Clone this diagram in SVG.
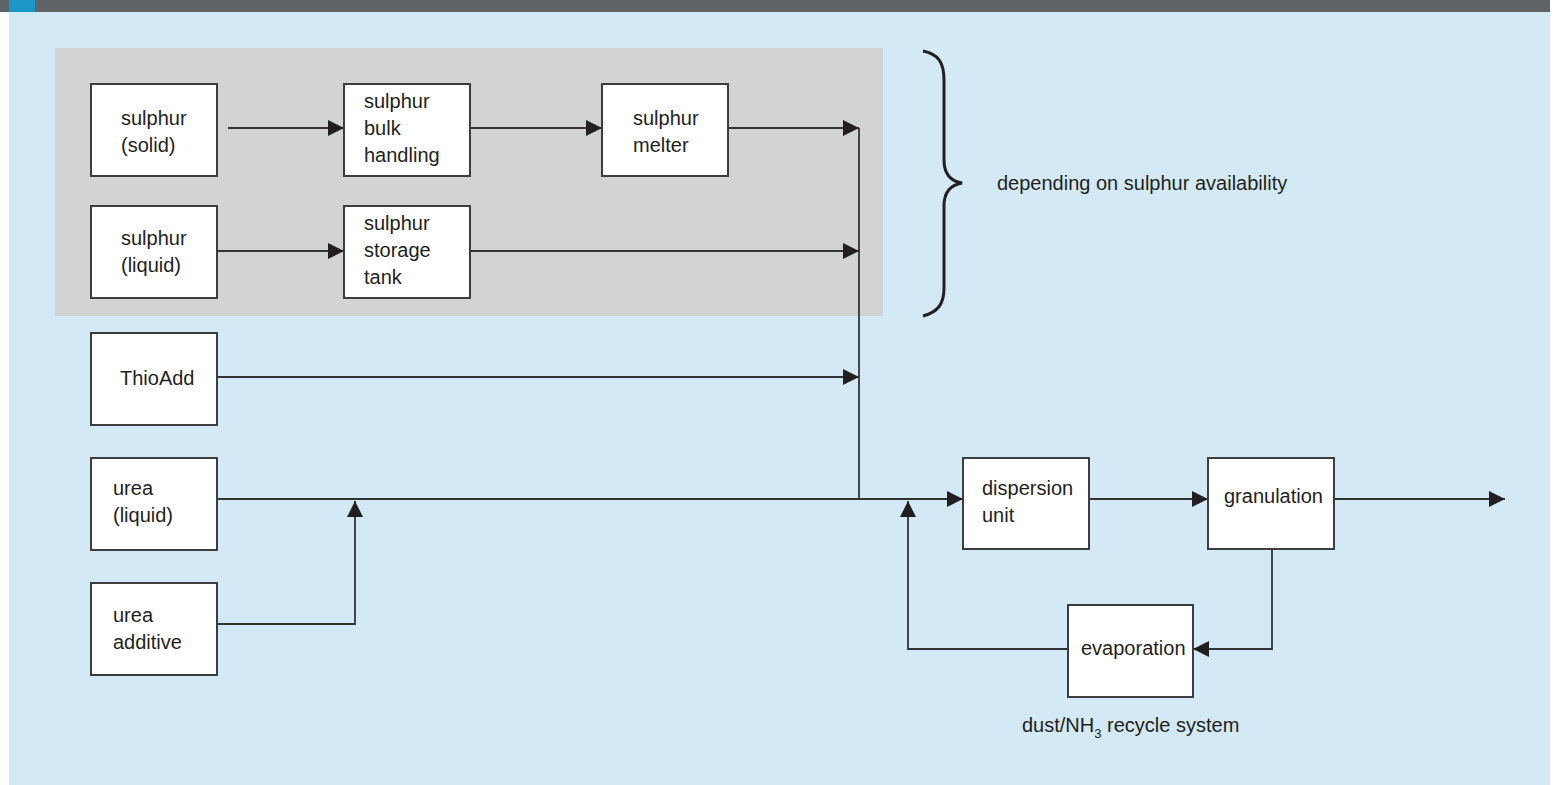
<svg xmlns="http://www.w3.org/2000/svg" width="1556" height="785" viewBox="0 0 1556 785">
<style>
.box{fill:#ffffff;stroke:#3d3d3d;stroke-width:2}
.t{font-family:"Liberation Sans",Arial,sans-serif;font-size:20px;fill:#231f20}
.ln{fill:none;stroke:#333333;stroke-width:1.8}
</style>
<defs>
<marker id="ah" markerUnits="userSpaceOnUse" markerWidth="16" markerHeight="16" viewBox="0 0 14 14" refX="14" refY="7" orient="auto">
<path d="M0,0 L14,7 L0,14 Z" fill="#231f20"/>
</marker>
</defs>
<rect x="0" y="0" width="1556" height="785" fill="#ffffff"/>
<rect x="9" y="12" width="1541" height="773" fill="#d3e9f5"/>
<rect x="0" y="0" width="1550" height="12" fill="#606466"/>
<rect x="9" y="0" width="26" height="12" fill="#1a96c8"/>
<rect x="55" y="48" width="828" height="268" fill="#d2d3d5"/>

<g id="connectors">
<line class="ln" x1="228" y1="128" x2="344" y2="128" marker-end="url(#ah)"/>
<line class="ln" x1="470" y1="128" x2="602" y2="128" marker-end="url(#ah)"/>
<line class="ln" x1="728" y1="128" x2="859" y2="128" marker-end="url(#ah)"/>
<line class="ln" x1="217" y1="251" x2="344" y2="251" marker-end="url(#ah)"/>
<line class="ln" x1="470" y1="251" x2="859" y2="251" marker-end="url(#ah)"/>
<line class="ln" x1="217" y1="377" x2="859" y2="377" marker-end="url(#ah)"/>
<line class="ln" x1="859" y1="128" x2="859" y2="499"/>
<line class="ln" x1="217" y1="499" x2="963" y2="499" marker-end="url(#ah)"/>
<polyline class="ln" points="217,624 355,624 355,501" marker-end="url(#ah)"/>
<polyline class="ln" points="1068,649 908,649 908,501" marker-end="url(#ah)"/>
<line class="ln" x1="1089" y1="499" x2="1208" y2="499" marker-end="url(#ah)"/>
<line class="ln" x1="1334" y1="499" x2="1505" y2="499" marker-end="url(#ah)"/>
<polyline class="ln" points="1272,549 1272,649 1193,649" marker-end="url(#ah)"/>
<path d="M923,51 C938,54 944,62 944,80 L944,160 C944,174 950,181 962,183 C950,185 944,192 944,206 L944,288 C944,304 938,312 923,316" fill="none" stroke="#231f20" stroke-width="3"/>
</g>

<g id="sulphur-solid"><rect class="box" x="91" y="84" width="126" height="92"/><text class="t" x="121" y="125">sulphur</text><text class="t" x="121" y="152">(solid)</text></g>
<g id="sulphur-bulk"><rect class="box" x="344" y="84" width="126" height="92"/><text class="t" x="364" y="108">sulphur</text><text class="t" x="364" y="135">bulk</text><text class="t" x="364" y="162">handling</text></g>
<g id="sulphur-melter"><rect class="box" x="602" y="84" width="126" height="92"/><text class="t" x="633" y="125">sulphur</text><text class="t" x="633" y="152">melter</text></g>
<g id="sulphur-liquid"><rect class="box" x="91" y="206" width="126" height="92"/><text class="t" x="121" y="245">sulphur</text><text class="t" x="121" y="272">(liquid)</text></g>
<g id="sulphur-storage"><rect class="box" x="344" y="206" width="126" height="92"/><text class="t" x="364" y="230">sulphur</text><text class="t" x="364" y="257">storage</text><text class="t" x="364" y="284">tank</text></g>
<g id="thioadd"><rect class="box" x="91" y="333" width="126" height="92"/><text class="t" x="120" y="385">ThioAdd</text></g>
<g id="urea-liquid"><rect class="box" x="91" y="458" width="126" height="92"/><text class="t" x="113" y="495">urea</text><text class="t" x="113" y="522">(liquid)</text></g>
<g id="urea-additive"><rect class="box" x="91" y="583" width="126" height="92"/><text class="t" x="113" y="622">urea</text><text class="t" x="113" y="649">additive</text></g>
<g id="dispersion"><rect class="box" x="963" y="458" width="126" height="91"/><text class="t" x="982" y="495">dispersion</text><text class="t" x="982" y="522">unit</text></g>
<g id="granulation"><rect class="box" x="1208" y="458" width="126" height="91"/><text class="t" x="1224" y="503">granulation</text></g>
<g id="evaporation"><rect class="box" x="1068" y="605" width="125" height="92"/><text class="t" x="1081" y="655">evaporation</text></g>
<g id="labels">
<text class="t" x="997" y="190">depending on sulphur availability</text>
<text class="t" x="1022" y="732">dust/NH<tspan font-size="13" dy="6">3</tspan><tspan dy="-6"> recycle system</tspan></text>
</g>
</svg>
